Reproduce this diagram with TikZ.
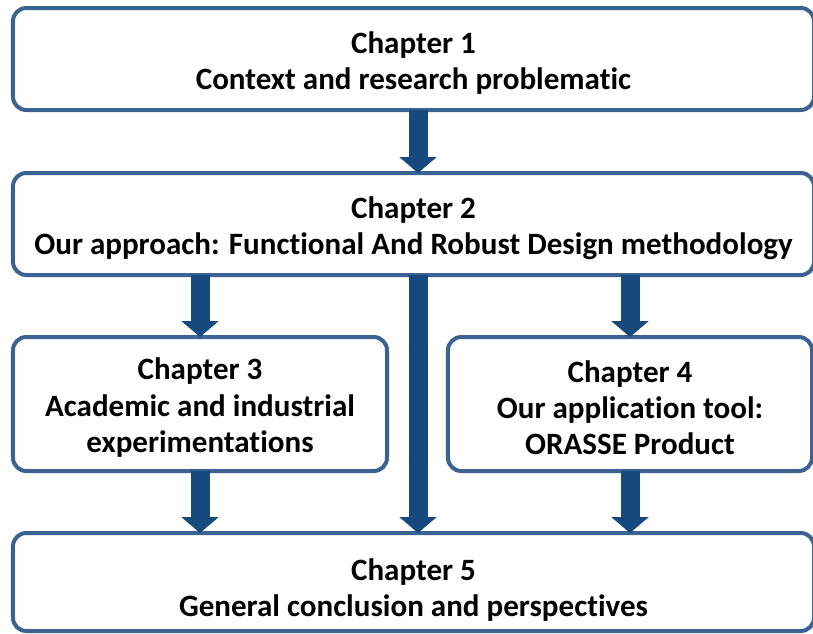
\documentclass[tikz,border=0pt]{standalone}
\usepackage{fontspec}
\setmainfont{Carlito}[Ligatures=NoCommon]
\usetikzlibrary{arrows.meta}

\definecolor{boxline}{RGB}{58,98,146}
\definecolor{arrowblue}{RGB}{22,73,125}

\newcommand{\topstrut}[1]{\rule{0pt}{#1}}

\begin{document}
\begin{tikzpicture}[
    x=0.03cm, y=-0.03cm,
    % Styles
    chapter/.style={draw=boxline, fill=white, line width=1.2mm, rounded corners=4mm, align=center, font=\fontsize{26.5}{31}\selectfont\bfseries, inner sep=0pt, outer sep=0pt},
    flow-arrow/.style={-{Triangle[width=1.1cm, length=0.48cm]}, line width=0.57cm, arrowblue},
]
\useasboundingbox (0,0) rectangle (813,633);

% Chapters
\node[chapter, minimum width=24.03cm, minimum height=3.06cm] (ch1) at (413.5,59)
    {\topstrut{26pt}Chapter 1\\Context and research problematic};
\node[chapter, minimum width=24.03cm, minimum height=3.06cm] (ch2) at (413.5,224)
    {\topstrut{26pt}Chapter 2\\Our approach: Functional And Robust Design methodology};
\node[chapter, minimum width=11.22cm, minimum height=4.02cm] (ch3) at (200,404)
    {\topstrut{25pt}Chapter 3\\Academic and industrial\\experimentations};
\node[chapter, minimum width=10.92cm, minimum height=4.02cm] (ch4) at (630,404)
    {\topstrut{25pt}Chapter 4\\Our application tool:\\ORASSE Product};
\node[chapter, minimum width=24.03cm, minimum height=2.94cm] (ch5) at (413.5,582)
    {\topstrut{32pt}Chapter 5\\General conclusion and perspectives};

% Arrows
\coordinate (spine) at ([xshift=0.135cm]ch1.south);
\draw[flow-arrow] (spine) -- (spine |- ch2.north);
\draw[flow-arrow] (spine |- ch2.south) -- (spine |- ch5.north);
\draw[flow-arrow] (ch3.north |- ch2.south) -- (ch3.north);
\draw[flow-arrow] (ch4.north |- ch2.south) -- (ch4.north);
\draw[flow-arrow] (ch3.south) -- (ch3.south |- ch5.north);
\draw[flow-arrow] (ch4.south) -- (ch4.south |- ch5.north);

\end{tikzpicture}
\end{document}
